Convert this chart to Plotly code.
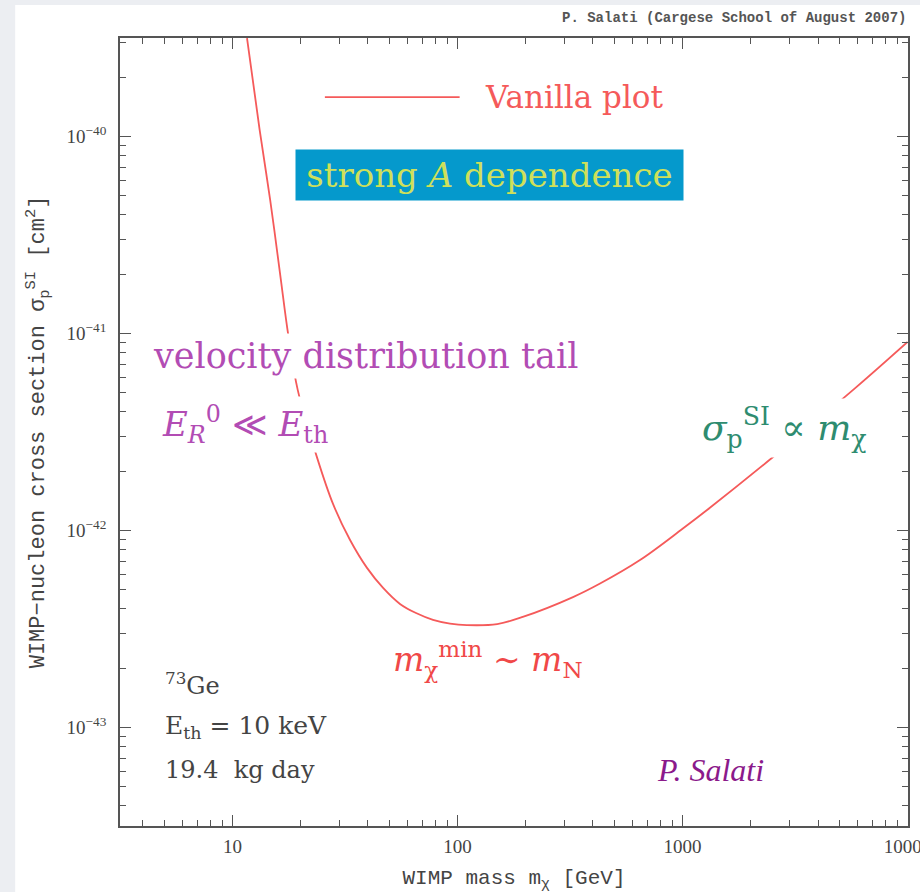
import plotly.graph_objects as go

# Exclusion curve for a 73Ge target (E_th = 10 keV, 19.4 kg day)
wimp_mass_gev = [11.6, 13.2, 14.7, 16.3, 17.7, 19.5, 23.8, 28.0, 33.3, 39.6,
                 46.7, 55.5, 65.4, 77.8, 92.6, 110, 150, 195, 326, 430, 647,
                 1000, 1285, 2525, 5850, 10000]
sigma_si_cm2 = [3.16e-40, 1.08e-40, 4.77e-41, 1.98e-41, 9.8e-42, 5.16e-42,
                2.33e-42, 1.36e-42, 8.95e-43, 6.46e-43, 5.11e-43, 4.24e-43,
                3.81e-43, 3.52e-43, 3.37e-43, 3.31e-43, 3.35e-43, 3.64e-43,
                4.59e-43, 5.38e-43, 7.08e-43, 1.02e-42, 1.27e-42, 2.36e-42,
                5.28e-42, 9.06e-42]

x_tick_vals = [10, 100, 1000, 10000]
x_tick_text = ["10", "100", "1000", "10000"]
y_tick_vals = [1e-43, 1e-42, 1e-41, 1e-40]
y_tick_text = ["10<sup>−43</sup>", "10<sup>−42</sup>", "10<sup>−41</sup>", "10<sup>−40</sup>"]

x_minor = [k * 10 ** n for n in range(0, 4) for k in range(2, 10)]
y_minor = [k * 10.0 ** n for n in range(-44, -39) for k in range(2, 10)]

CURVE = "#f55a5a"
SERIF = "DejaVu Serif"
TIMES = "Liberation Serif"
MONO = "Liberation Mono"

fig = go.Figure()
fig.add_trace(go.Scatter(
    x=wimp_mass_gev, y=sigma_si_cm2, mode="lines",
    line=dict(color=CURVE, width=1.8, shape="spline", smoothing=1.0),
    showlegend=False, hoverinfo="skip",
))

axis_common = dict(
    type="log", showgrid=False, zeroline=False, automargin=False,
    showline=True, linecolor="#555", linewidth=1.6, mirror="allticks",
    ticks="inside", ticklen=11, tickwidth=1.2, tickcolor="#555",
    tickfont=dict(family=TIMES, size=19, color="#444"),
    ticklabeloverflow="allow",
)

fig.update_xaxes(
    **axis_common, range=[0.5, 4.002], ticklabelstandoff=2,
    tickvals=x_tick_vals, ticktext=x_tick_text,
    minor=dict(tickvals=x_minor, ticks="inside", ticklen=6, tickcolor="#555", tickwidth=1),
    title=dict(text="WIMP mass m<sub>χ</sub> [GeV]", standoff=14,
               font=dict(family=MONO, size=21, color="#444")),
)
fig.update_yaxes(
    **axis_common, range=[-43.5, -39.5], ticklabelstandoff=8,
    tickvals=y_tick_vals, ticktext=y_tick_text,
    minor=dict(tickvals=y_minor, ticks="inside", ticklen=6, tickcolor="#555", tickwidth=1),
    title=dict(text="WIMP−nucleon cross section σ<sub>p</sub><sup>SI</sup> [cm<sup>2</sup>]",
               standoff=16, font=dict(family=MONO, size=22, color="#444")),
)

annotations = [
    dict(x=1.0, y=1.025, xanchor="right", yanchor="middle",
         text="<b>P. Salati (Cargese School of August 2007)</b>",
         font=dict(family=MONO, size=14, color="#555")),
    dict(x=0.461, y=0.925, xanchor="left", yanchor="middle", text="Vanilla plot",
         font=dict(family=SERIF, size=31, color=CURVE)),
    dict(x=0.469, y=0.826, xanchor="center", yanchor="middle",
         text="strong <i>A</i> dependence", width=383, height=46,
         bgcolor="#0599cc", borderpad=2,
         font=dict(family=SERIF, size=34, color="#cfe05a")),
    dict(x=0.038, y=0.597, xanchor="left", yanchor="middle",
         text="velocity distribution tail", bgcolor="white", borderpad=2,
         font=dict(family=SERIF, size=35, color="#b24cb4")),
    dict(x=0.048, y=0.509, xanchor="left", yanchor="middle",
         text="<i>E</i><sub><i>R</i></sub><sup>0</sup> ≪ <i>E</i><sub>th</sub>",
         bgcolor="white", borderpad=3,
         font=dict(family=SERIF, size=34, color="#b24cb4")),
    dict(x=0.467, y=0.211, xanchor="center", yanchor="middle",
         text="<i>m</i><sub>χ</sub><sup>min</sup> ∼ <i>m</i><sub>N</sub>",
         font=dict(family=SERIF, size=33, color="#f04848")),
    dict(x=0.733, y=0.505, xanchor="left", yanchor="middle",
         text="<i>σ</i><sub>p</sub><sup>SI</sup> ∝ <i>m</i><sub>χ</sub>",
         bgcolor="white", borderpad=3,
         font=dict(family=SERIF, size=36, color="#2e8c70")),
    dict(x=0.055, y=0.180, xanchor="left", yanchor="middle",
         text="<sup>73</sup>Ge", font=dict(family=SERIF, size=24, color="#444")),
    dict(x=0.055, y=0.126, xanchor="left", yanchor="middle",
         text="E<sub>th</sub> = 10 keV", font=dict(family=SERIF, size=25, color="#444")),
    dict(x=0.055, y=0.071, xanchor="left", yanchor="middle",
         text="19.4  kg day", font=dict(family=SERIF, size=24, color="#444")),
    dict(x=0.679, y=0.071, xanchor="left", yanchor="middle",
         text="<i>P. Salati</i>", font=dict(family=TIMES, size=32, color="#8b1a8b")),
]
for a in annotations:
    a.update(xref="paper", yref="paper", showarrow=False)

shapes = [
    # white slide panel behind the chart
    dict(type="rect", xref="paper", yref="paper", x0=-0.133, x1=1.2, y0=-0.2, y1=1.042,
         fillcolor="white", line=dict(width=0), layer="below"),
    # legend sample line
    dict(type="line", xref="paper", yref="paper", x0=0.260, x1=0.431, y0=0.925, y1=0.925,
         line=dict(color=CURVE, width=1.8)),
]

fig.update_layout(
    width=920, height=892,
    margin=dict(l=120, r=12, t=38, b=66, autoexpand=False),
    paper_bgcolor="#eceef2", plot_bgcolor="white",
    annotations=annotations, shapes=shapes,
    showlegend=False,
)

fig.write_html("out.html")
